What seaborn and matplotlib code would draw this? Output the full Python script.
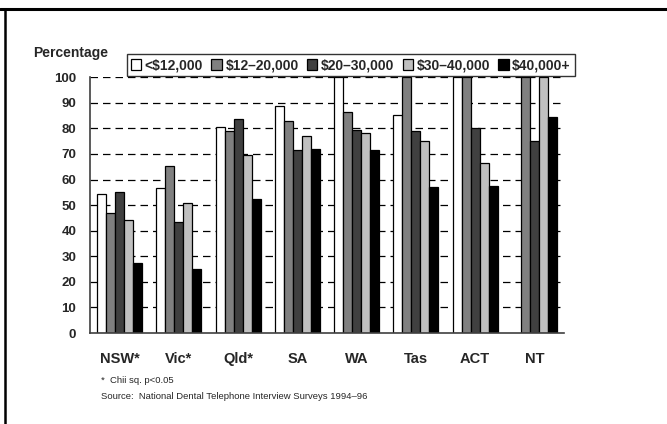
import numpy as np
import pandas as pd
import seaborn as sns
import matplotlib.pyplot as plt


# DATA

states = ["NSW*", "Vic*", "Qld*", "SA", "WA", "Tas", "ACT", "NT"]
income_groups = ["<$12,000", "$12\u201320,000", "$20\u201330,000", "$30\u201340,000", "$40,000+"]

under_12k = [54.2, 56.8, 80.7, 88.7, 100, 85.4, 100, np.nan]
from_12_20k = [47.1, 65.1, 78.8, 82.7, 86.2, 100, 100, 100]
from_20_30k = [55.2, 43.5, 83.5, 71.5, 79.3, 78.9, 80.0, 75.0]
from_30_40k = [44.3, 50.9, 69.7, 77.1, 78.2, 74.9, 66.5, 100]
over_40k = [27.2, 24.9, 52.5, 71.9, 71.7, 57.0, 57.5, 84.4]

bar_colors = ["#ffffff", "#808080", "#404040", "#c0c0c0", "#000000"]
y_ticks = list(range(0, 101, 10))

footnote = "*  Chii sq. p<0.05"
source = "Source:  National Dental Telephone Interview Surveys 1994\u201396"


# PREPARE

def build_frame():
    series = [under_12k, from_12_20k, from_20_30k, from_30_40k, over_40k]
    rows = []
    for group, values in zip(income_groups, series):
        for state, v in zip(states, values):
            rows.append({"State": state, "Income": group, "Percentage": v})
    return pd.DataFrame(rows)


# PLOT

def plot_chart(df):
    sns.set_style("white")
    plt.rcParams["font.family"] = ["Liberation Sans", "DejaVu Sans"]

    fig = plt.figure(figsize=(6.67, 4.24), dpi=100)
    ax = fig.add_axes([0.135, 0.2146, 0.7106, 0.6034])

    sns.barplot(
        data=df, x="State", y="Percentage", hue="Income",
        order=states, hue_order=income_groups, palette=bar_colors,
        width=0.76, gap=0, edgecolor="black", linewidth=0.9,
        saturation=1, errorbar=None, legend=True, ax=ax
    )

    ax.set_ylim(0, 100)
    ax.set_xlim(-0.5, len(states) - 0.5)
    ax.set_yticks(y_ticks)
    ax.set_axisbelow(True)
    for t in y_ticks[1:]:
        ax.axhline(t, color="black", lw=0.9, linestyle=(0, (6, 4)), zorder=0)

    ax.set_xlabel("")
    ax.set_ylabel("")
    for side in ["top", "right"]:
        ax.spines[side].set_visible(False)
    for side in ["left", "bottom"]:
        ax.spines[side].set_color("#404040")
        ax.spines[side].set_linewidth(1.2)

    ax.tick_params(axis="y", length=0, pad=10, labelsize=9.5)
    ax.tick_params(axis="x", which="major", length=0, pad=14, labelsize=10.5)
    ax.set_xticks(np.arange(-0.5, len(states), 1), minor=True)
    ax.tick_params(axis="x", which="minor", direction="in", length=4,
                   width=1, color="#404040")
    for lab in ax.get_xticklabels() + ax.get_yticklabels():
        lab.set_fontweight("bold")

    handles, labels = ax.get_legend_handles_labels()
    ax.legend_.remove()
    leg = fig.legend(
        handles, labels, ncol=5, loc="center",
        bbox_to_anchor=(0.526, 0.846), frameon=True, fancybox=False,
        edgecolor="black", handlelength=0.75, handleheight=0.75,
        handletextpad=0.25, columnspacing=0.6, borderpad=0.3,
        prop={"weight": "bold", "size": 10}
    )
    leg.get_frame().set_linewidth(1.0)

    fig.text(0.05, 0.875, "Percentage", fontsize=10, fontweight="bold",
             ha="left", va="center")
    fig.text(0.152, 0.102, footnote, fontsize=6.8, ha="left", va="center")
    fig.text(0.152, 0.064, source, fontsize=6.8, ha="left", va="center")

    # frame lines from the page the chart was cut from
    fig.add_artist(plt.Line2D([0, 1], [0.979, 0.979], color="black", lw=2.2,
                              transform=fig.transFigure))
    fig.add_artist(plt.Line2D([0.0068, 0.0068], [0, 0.979], color="black",
                              lw=1.8, transform=fig.transFigure))

    fig.savefig("out.png", dpi=100)


# MAIN EXECUTION

if __name__ == "__main__":
    df = build_frame()
    plot_chart(df)
